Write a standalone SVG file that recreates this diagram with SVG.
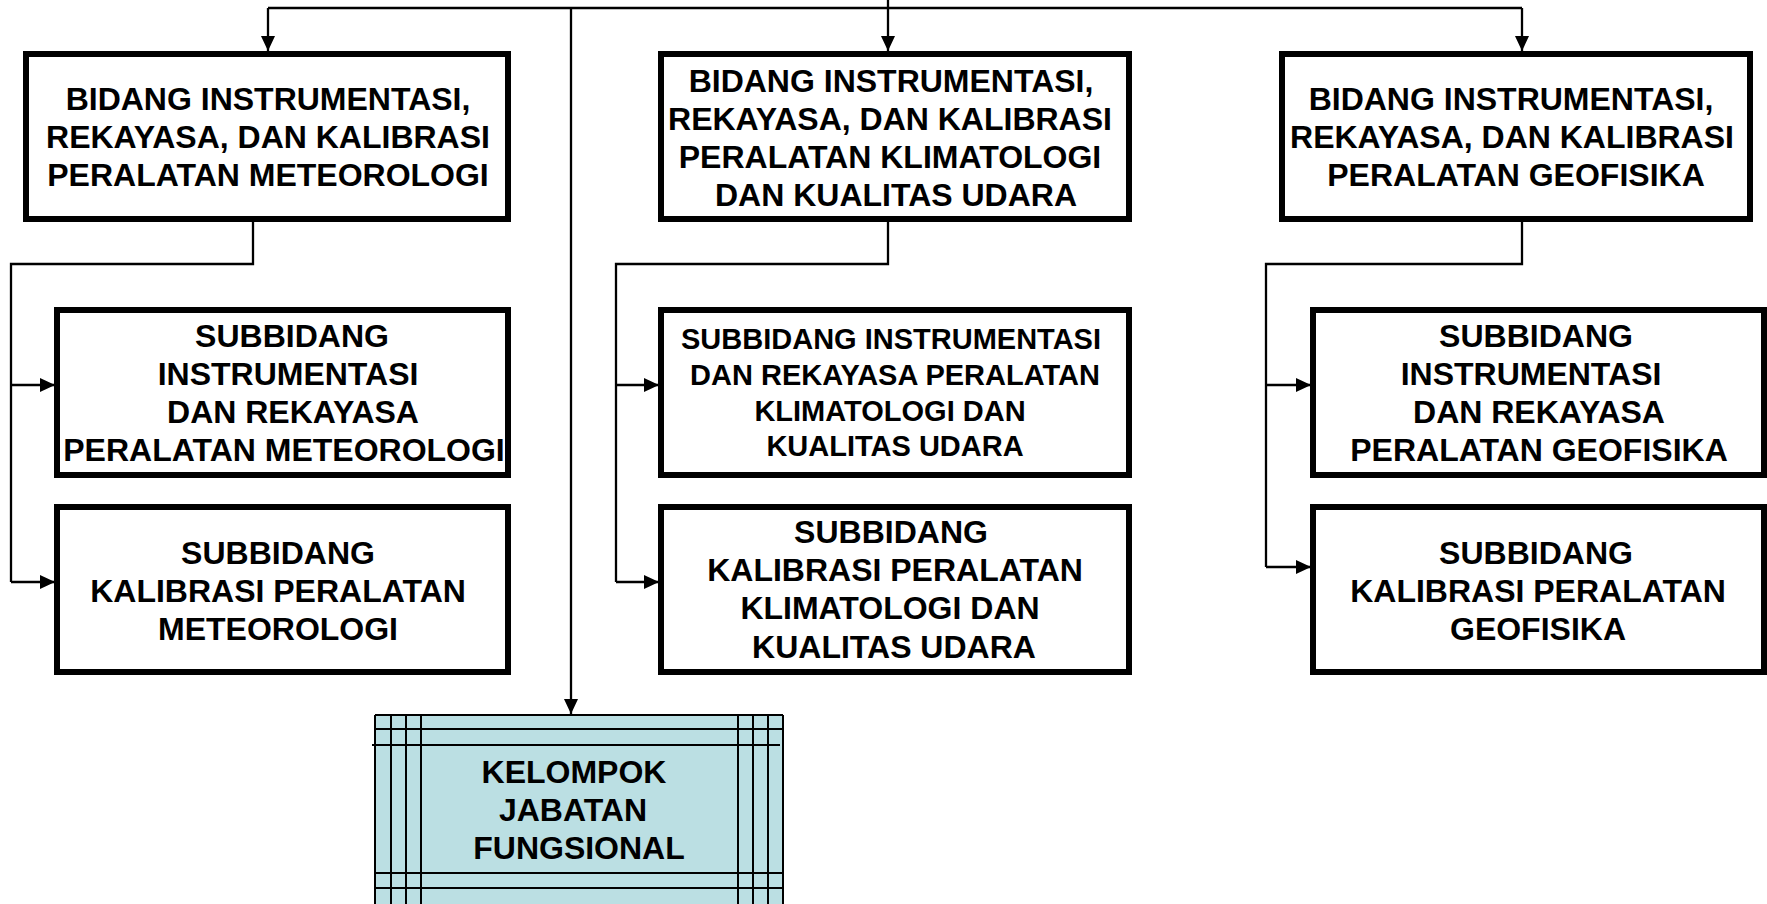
<svg xmlns="http://www.w3.org/2000/svg" width="1767" height="904" viewBox="0 0 1767 904">
<style>
.box{fill:#fff;stroke:#000;stroke-width:6}
.t{font-family:"Liberation Sans",Arial,sans-serif;font-weight:bold;font-size:32px;fill:#000;text-anchor:middle}
.s{font-size:29px}
.c{fill:none;stroke:#000;stroke-width:2.3}
.g{stroke:#000;stroke-width:2}
</style>
<defs>
<marker id="ah" markerUnits="userSpaceOnUse" markerWidth="15" markerHeight="14" refX="15" refY="7" orient="auto">
<path d="M0,0 L15,7 L0,14 z" fill="#000"/>
</marker>
</defs>
<rect width="1767" height="904" fill="#fff"/>
<g id="connectors">
<path class="c" d="M888,0 V8 M268,8 H1522"/>
<path class="c" d="M268,8 V51" marker-end="url(#ah)"/>
<path class="c" d="M888,8 V51" marker-end="url(#ah)"/>
<path class="c" d="M1522,8 V51" marker-end="url(#ah)"/>
<path class="c" d="M571,8 V714" marker-end="url(#ah)"/>
<path class="c" d="M253,222 V264 H11 V582"/>
<path class="c" d="M11,385 H55" marker-end="url(#ah)"/>
<path class="c" d="M11,582 H55" marker-end="url(#ah)"/>
<path class="c" d="M888,222 V264 H616 V582"/>
<path class="c" d="M616,385 H659" marker-end="url(#ah)"/>
<path class="c" d="M616,582 H659" marker-end="url(#ah)"/>
<path class="c" d="M1522,222 V264 H1266 V567"/>
<path class="c" d="M1266,385 H1311" marker-end="url(#ah)"/>
<path class="c" d="M1266,567 H1311" marker-end="url(#ah)"/>
</g>
<g id="bidang-meteorologi">
<rect class="box" x="26" y="54" width="482" height="165"/>
<text class="t"><tspan x="268" y="110">BIDANG INSTRUMENTASI,</tspan><tspan x="268" y="148">REKAYASA, DAN KALIBRASI</tspan><tspan x="268" y="186">PERALATAN METEOROLOGI</tspan></text>
</g>
<g id="subbidang-instrumentasi-meteorologi">
<rect class="box" x="57" y="310" width="451" height="165"/>
<text class="t"><tspan x="292" y="347">SUBBIDANG</tspan><tspan x="288" y="385">INSTRUMENTASI</tspan><tspan x="293" y="423">DAN REKAYASA</tspan><tspan x="284" y="461">PERALATAN METEOROLOGI</tspan></text>
</g>
<g id="subbidang-kalibrasi-meteorologi">
<rect class="box" x="57" y="507" width="451" height="165"/>
<text class="t"><tspan x="278" y="564">SUBBIDANG</tspan><tspan x="278" y="602">KALIBRASI PERALATAN</tspan><tspan x="278" y="640">METEOROLOGI</tspan></text>
</g>
<g id="bidang-klimatologi">
<rect class="box" x="661" y="54" width="468" height="165"/>
<text class="t"><tspan x="891" y="92">BIDANG INSTRUMENTASI,</tspan><tspan x="890" y="130">REKAYASA, DAN KALIBRASI</tspan><tspan x="890" y="168">PERALATAN KLIMATOLOGI</tspan><tspan x="896" y="206">DAN KUALITAS UDARA</tspan></text>
</g>
<g id="subbidang-instrumentasi-klimatologi">
<rect class="box" x="661" y="310" width="468" height="165"/>
<text class="t s"><tspan x="891" y="349">SUBBIDANG INSTRUMENTASI</tspan><tspan x="895" y="385">DAN REKAYASA PERALATAN</tspan><tspan x="890" y="421">KLIMATOLOGI DAN</tspan><tspan x="895" y="456">KUALITAS UDARA</tspan></text>
</g>
<g id="subbidang-kalibrasi-klimatologi">
<rect class="box" x="661" y="507" width="468" height="165"/>
<text class="t"><tspan x="891" y="543">SUBBIDANG</tspan><tspan x="895" y="581">KALIBRASI PERALATAN</tspan><tspan x="890" y="619">KLIMATOLOGI DAN</tspan><tspan x="894" y="658">KUALITAS UDARA</tspan></text>
</g>
<g id="bidang-geofisika">
<rect class="box" x="1282" y="54" width="468" height="165"/>
<text class="t"><tspan x="1511" y="110">BIDANG INSTRUMENTASI,</tspan><tspan x="1512" y="148">REKAYASA, DAN KALIBRASI</tspan><tspan x="1516" y="186">PERALATAN GEOFISIKA</tspan></text>
</g>
<g id="subbidang-instrumentasi-geofisika">
<rect class="box" x="1313" y="310" width="451" height="165"/>
<text class="t"><tspan x="1536" y="347">SUBBIDANG</tspan><tspan x="1531" y="385">INSTRUMENTASI</tspan><tspan x="1539" y="423">DAN REKAYASA</tspan><tspan x="1539" y="461">PERALATAN GEOFISIKA</tspan></text>
</g>
<g id="subbidang-kalibrasi-geofisika">
<rect class="box" x="1313" y="507" width="451" height="165"/>
<text class="t"><tspan x="1536" y="564">SUBBIDANG</tspan><tspan x="1538" y="602">KALIBRASI PERALATAN</tspan><tspan x="1538" y="640">GEOFISIKA</tspan></text>
</g>
<g id="kelompok-jabatan-fungsional">
<rect x="375" y="715" width="408" height="200" fill="#BBDFE3"/>
<path class="g" d="M375,715 V904 M391,715 V904 M406,715 V904 M421,715 V904 M738,715 V904 M753,715 V904 M768,715 V904 M783,715 V904 M375,715 H783 M375,729 H783 M372,745 H780 M375,873 H783 M375,888 H783"/>
<text class="t"><tspan x="574" y="783">KELOMPOK</tspan><tspan x="573" y="821">JABATAN</tspan><tspan x="579" y="859">FUNGSIONAL</tspan></text>
</g>
</svg>
